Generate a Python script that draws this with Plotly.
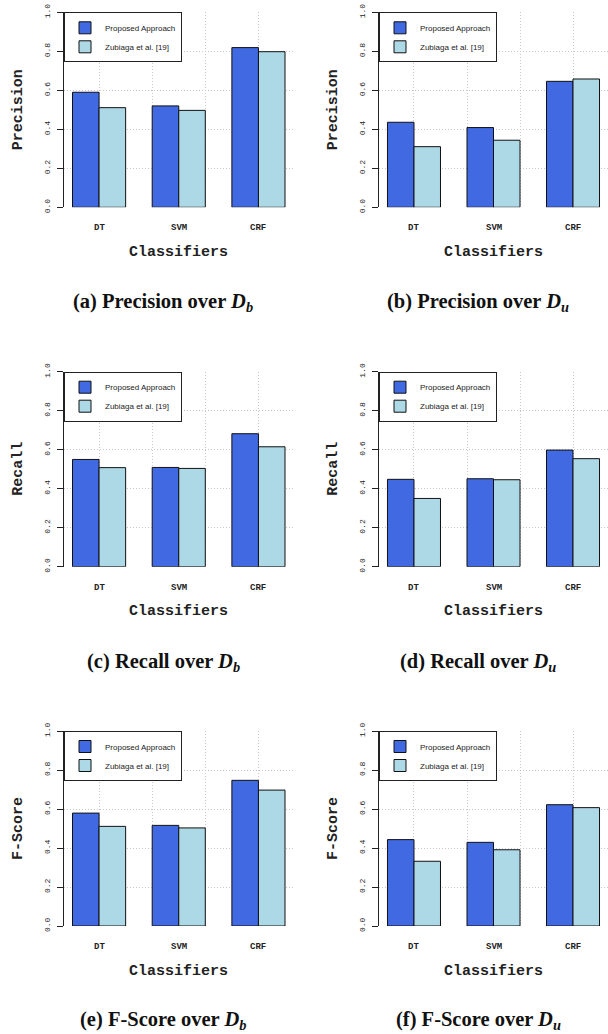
import plotly.graph_objects as go

categories = ["DT", "SVM", "CRF"]
series_names = ["Proposed Approach", "Zubiaga et al. [19]"]

precision_db_proposed = [0.590, 0.520, 0.819]
precision_db_zubiaga = [0.511, 0.497, 0.798]
precision_du_proposed = [0.436, 0.409, 0.646]
precision_du_zubiaga = [0.311, 0.344, 0.658]
recall_db_proposed = [0.550, 0.509, 0.682]
recall_db_zubiaga = [0.508, 0.504, 0.615]
recall_du_proposed = [0.448, 0.451, 0.598]
recall_du_zubiaga = [0.350, 0.446, 0.554]
fscore_db_proposed = [0.579, 0.516, 0.747]
fscore_db_zubiaga = [0.511, 0.503, 0.697]
fscore_du_proposed = [0.443, 0.429, 0.622]
fscore_du_zubiaga = [0.332, 0.391, 0.607]

y_ticks = [0.0, 0.2, 0.4, 0.6, 0.8, 1.0]
x_title = "Classifiers"

panels = [
    ("Precision", precision_db_proposed, precision_db_zubiaga, "(a) Precision over <i>D</i><sub><i>b</i></sub>"),
    ("Precision", precision_du_proposed, precision_du_zubiaga, "(b) Precision over <i>D</i><sub><i>u</i></sub>"),
    ("Recall", recall_db_proposed, recall_db_zubiaga, "(c) Recall over <i>D</i><sub><i>b</i></sub>"),
    ("Recall", recall_du_proposed, recall_du_zubiaga, "(d) Recall over <i>D</i><sub><i>u</i></sub>"),
    ("F-Score", fscore_db_proposed, fscore_db_zubiaga, "(e) F-Score over <i>D</i><sub><i>b</i></sub>"),
    ("F-Score", fscore_du_proposed, fscore_du_zubiaga, "(f) F-Score over <i>D</i><sub><i>u</i></sub>"),
]
colors = ["#4169E1", "#ADD8E6"]

W, H = 608, 1034
col_x = [(64, 293.5), (379, 608)]          # page px
row_y = [(12.3, 207.3), (371.7, 566.7), (731, 926)]
caption_y = [302.5, 662, 1020]
caption_x = [163, 478]

# R barplot(beside=TRUE) positions: group centres at 2, 5, 8
group_pos = [2 + 3 * i for i in range(len(categories))]

mono = "Liberation Mono, Courier New, monospace"
grid_dash = "1px,2px"


def px(xp):
    return xp / W


def py(yp):
    return 1 - yp / H


fig = go.Figure()
annotations = []
for k, (ylabel, prop, zub, caption) in enumerate(panels):
    r, c = divmod(k, 2)
    n = k + 1
    xa = "x" if n == 1 else f"x{n}"
    ya = "y" if n == 1 else f"y{n}"
    lg = "legend" if n == 1 else f"legend{n}"
    for s, (name, vals) in enumerate(zip(series_names, [prop, zub])):
        fig.add_trace(go.Bar(
            x=group_pos, y=vals, name=name, xaxis=xa, yaxis=ya, legend=lg,
            marker=dict(color=colors[s], line=dict(color="#111111", width=1)),
            showlegend=True,
        ))
    x0, x1 = col_x[c]
    yt, yb = row_y[r]
    xdom = [px(x0), min(px(x1), 1.0)]
    ydom = [py(yb), py(yt)]
    axkey = "xaxis" if n == 1 else f"xaxis{n}"
    aykey = "yaxis" if n == 1 else f"yaxis{n}"
    fig.update_layout(**{
        axkey: dict(domain=xdom, anchor=ya, range=[0.68, 9.32], tick0=0, dtick=2,
                    showticklabels=False, ticks="", showline=False, zeroline=False,
                    automargin=False,
                    showgrid=True, gridcolor="#c8c8c8", griddash=grid_dash, gridwidth=1),
        aykey: dict(domain=ydom, anchor=xa, range=[0, 1], tickvals=y_ticks,
                    tickformat=".1f", tickangle=-90, ticks="outside", ticklen=6,
                    tickcolor="#222222", showline=True, linecolor="#222222", linewidth=1,
                    zeroline=False, showgrid=True, gridcolor="#c8c8c8", griddash=grid_dash,
                    automargin=False,
                    gridwidth=1, tickfont=dict(family=mono, size=8, color="#222222"),
                    ticklabelstandoff=4),
        lg: dict(x=px(x0), y=py(yt), xanchor="left", yanchor="top",
                 bordercolor="#222222", borderwidth=1, bgcolor="white",
                 font=dict(family="Liberation Sans, Arial, sans-serif", size=8, color="#222222"),
                 itemwidth=30, tracegroupgap=0),
    })
    for cat, gp in zip(categories, group_pos):
        annotations.append(dict(x=gp, y=0, xref=xa, yref=f"{ya} domain", text=f"<b>{cat}</b>",
                                showarrow=False, xanchor="center", yanchor="middle", yshift=-21,
                                font=dict(family=mono, size=9, color="#222222")))
    annotations.append(dict(x=px((x0 + x1) / 2), y=py(yb + 45), xref="paper", yref="paper",
                            text=f"<b>{x_title}</b>", showarrow=False, xanchor="center", yanchor="middle",
                            font=dict(family=mono, size=15, color="#222222")))
    annotations.append(dict(x=px(x0 - 45.5), y=py((yt + yb) / 2), xref="paper", yref="paper",
                            text=f"<b>{ylabel}</b>", showarrow=False, textangle=-90,
                            xanchor="center", yanchor="middle",
                            font=dict(family=mono, size=15, color="#222222")))
    annotations.append(dict(x=px(caption_x[c]), y=py(caption_y[r]), xref="paper", yref="paper",
                            text=f"<b>{caption}</b>", showarrow=False, xanchor="center", yanchor="middle",
                            font=dict(family="Liberation Serif, Times New Roman, serif", size=20.5,
                                      color="#111111")))

fig.update_layout(
    width=W, height=H, margin=dict(l=0, r=0, t=0, b=0, autoexpand=False),
    paper_bgcolor="white", plot_bgcolor="white",
    barmode="group", bargap=1/3, bargroupgap=0,
    annotations=annotations,
)
# remove the browser's default 8px page margin so the figure sits at the page origin
fig.write_html("out.html", config={"displayModeBar": False},
               post_script="document.body.style.margin='0px';")
